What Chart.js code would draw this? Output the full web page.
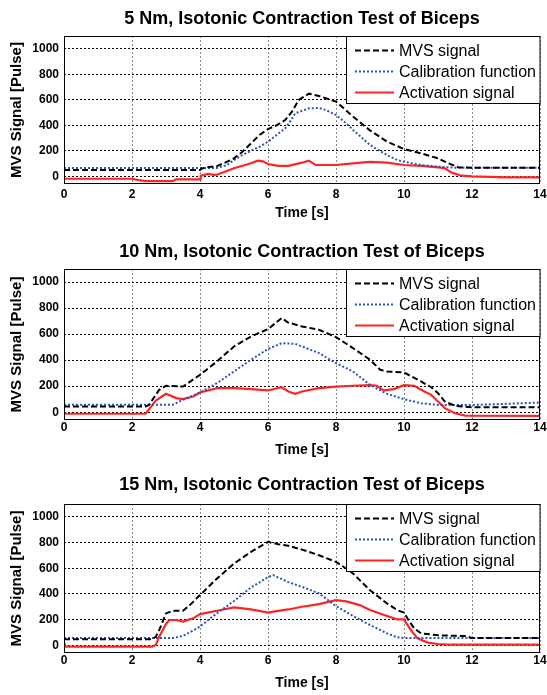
<!DOCTYPE html>
<html>
<head>
<meta charset="utf-8">
<script src="https://cdn.jsdelivr.net/npm/chart.js@4"></script>
<style>
html,body{margin:0;padding:0;background:#fff;}
body{width:547px;height:695px;position:relative;overflow:hidden;}
canvas{position:absolute;left:0;}
</style>
</head>
<body>
<canvas id="c1" width="547" height="232" style="top:0px"></canvas>
<canvas id="c2" width="547" height="231" style="top:232px"></canvas>
<canvas id="c3" width="547" height="232" style="top:463px"></canvas>
<script>
// ---------- data ----------
const xTicks = [0, 2, 4, 6, 8, 10, 12, 14];
const yTicks = [0, 200, 400, 600, 800, 1000];
const titles = [
  '5 Nm, Isotonic Contraction Test of Biceps',
  '10 Nm, Isotonic Contraction Test of Biceps',
  '15 Nm, Isotonic Contraction Test of Biceps'
];
const seriesNames = ['MVS signal', 'Calibration function', 'Activation signal'];
const xAxisLabel = 'Time [s]';
const yAxisLabel = 'MVS Signal [Pulse]';

// Panel 1 (5 Nm)
const p1MvsT = [0,2,4,4.05,4.2,4.5,4.8,5,5.25,5.5,5.75,6,6.25,6.5,6.7,6.9,7.2,7.5,8,8.5,9,9.5,10,10.5,11,11.3,11.6,12,14];
const p1MvsV = [50,50,50,62,70,80,115,141,193,259,324,370,400,440,505,598,648,630,586,469,360,272,214,180,141,103,71,68,68];
const p1CalT = [0,4.5,4.8,5,5.25,5.5,5.75,6,6.5,6.65,6.8,7.2,7.5,7.7,8,8.3,8.5,9,9.5,9.8,10,10.5,11,11.5,14];
const p1CalV = [66,66,89,128,167,201,232,272,375,429,494,533,536,520,481,416,364,246,167,128,115,89,76,68,68];
const p1ActT = [0,2,2.2,2.4,3.2,3.3,4,4.02,4.25,4.4,4.5,5,5.5,5.7,5.85,6,6.3,6.6,7,7.2,7.4,7.6,8,8.5,9,9.5,10,10.5,11,11.2,11.4,11.7,12,13,14];
const p1ActV = [-19,-19,-30,-37,-37,-23,-23,5,19,12,13,63,103,123,118,97,82,82,107,123,89,89,89,102,113,107,89,82,71,63,29,5,0,-8,-8];

// Panel 2 (10 Nm)
const p2MvsT = [0,2.4,2.5,2.8,3,3.5,4,4.5,5,5.5,6,6.4,6.58,7,7.5,8,8.5,9,9.3,9.5,10,10.5,10.8,11,11.2,11.5,12,14];
const p2MvsV = [44,44,56,172,203,197,287,390,505,582,638,723,690,659,633,577,492,403,326,313,305,236,192,146,82,49,38,38];
const p2CalT = [0,3.2,3.5,4,4.5,5,5.5,6,6.4,6.8,7,7.5,8,8.5,9,9.5,10,10.5,11,12,13,14];
const p2CalV = [58,58,95,151,223,313,403,485,530,525,505,454,377,313,210,141,100,69,56,56,64,74];
const p2ActT = [0,2.4,2.7,3,3.3,3.5,3.8,4,4.5,5,5.5,6,6.4,6.6,6.8,7,7.5,8,8.5,9,9.2,9.4,9.7,10,10.3,10.6,10.8,11,11.2,11.5,11.8,14];
const p2ActV = [-12,-12,90,141,108,100,120,151,185,185,177,167,192,159,141,159,185,197,203,208,203,167,177,208,203,159,133,82,31,-8,-26,-28];

// Panel 3 (15 Nm)
const p3MvsT = [0,2.6,2.7,2.8,3,3.2,3.5,3.7,4,4.5,5,5.5,6,6.3,6.6,7,7.5,8,8.3,8.5,9,9.5,9.8,10,10.1,10.3,10.5,11,11.8,12,14];
const p3MvsV = [47,47,67,119,248,269,269,313,391,520,636,727,805,787,775,745,701,649,598,559,429,326,274,254,210,132,93,78,72,57,57];
const p3CalT = [0,3.2,3.5,4,4.5,5,5.5,6,6.15,6.58,7,7.5,8,8.5,9,9.5,9.8,10,14];
const p3CalV = [57,57,72,145,250,345,450,530,546,494,455,404,305,228,158,93,62,57,57];
const p3ActT = [0,0.05,2.6,2.7,2.8,3,3.1,3.3,3.5,3.8,4,4.5,5,5.5,6,6.2,6.6,7,7.5,8,8.3,8.7,9,9.5,9.8,10,10.2,10.4,10.7,11,11.3,14];
const p3ActV = [25,-10,-10,3,67,166,197,197,184,210,243,269,295,279,254,264,279,300,321,352,342,313,274,228,202,202,119,54,21,10,5,5];

// ---------- styling / layout ----------
const FONT = '"Liberation Sans", Arial, Helvetica, sans-serif';
const seriesStyles = [
  {borderColor: '#000000', borderWidth: 2, borderDash: [6, 3]},
  {borderColor: '#2f52b8', borderWidth: 2, borderDash: [2, 2]},
  {borderColor: '#ff2424', borderWidth: 2.2, borderDash: []}
];
const panels = [
  {id: 'c1', h: 232, plotTop: 36, plotBottom: 184, titleY: 19, xLabelY: 213, tickPad: 3,
   t: [p1MvsT, p1CalT, p1ActT], v: [p1MvsV, p1CalV, p1ActV]},
  {id: 'c2', h: 231, plotTop: 37, plotBottom: 188, titleY: 20, xLabelY: 218, tickPad: 0,
   t: [p2MvsT, p2CalT, p2ActT], v: [p2MvsV, p2CalV, p2ActV]},
  {id: 'c3', h: 232, plotTop: 41, plotBottom: 190, titleY: 22, xLabelY: 220, tickPad: 0,
   t: [p3MvsT, p3CalT, p3ActT], v: [p3MvsV, p3CalV, p3ActV]}
];

const decorPlugin = {
  id: 'decor',
  afterDatasetsDraw(chart) {
    const {ctx, chartArea: a} = chart;
    ctx.save();
    ctx.strokeStyle = '#000';
    ctx.lineWidth = 1;
    ctx.setLineDash([]);
    const L = Math.round(a.left) + 0.5, T = Math.round(a.top) + 0.5;
    const R = Math.round(a.right) - 0.5, B = Math.round(a.bottom) - 0.5;
    ctx.strokeRect(L, T, R - L, B - T);
    const lx = 346, ly = T, lw = R - 346 + 0.5, lh = 67;
    ctx.fillStyle = '#fff';
    ctx.fillRect(lx, ly, lw, lh);
    ctx.strokeRect(lx + 0.5, ly, lw - 0.5, lh);
    ctx.font = '16px ' + FONT;
    ctx.textBaseline = 'middle';
    ctx.textAlign = 'left';
    chart.data.datasets.forEach((ds, i) => {
      const y = ly + 14 + i * 21;
      ctx.beginPath();
      ctx.strokeStyle = ds.borderColor;
      ctx.lineWidth = ds.borderWidth;
      ctx.setLineDash(ds.borderDash || []);
      ctx.moveTo(355, y);
      ctx.lineTo(394, y);
      ctx.stroke();
      ctx.fillStyle = '#000';
      ctx.fillText(ds.label, 399, y + 1);
    });
    ctx.restore();
  },
  afterDraw(chart, args, opts) {
    const {ctx, chartArea: a} = chart;
    ctx.save();
    ctx.fillStyle = '#000';
    ctx.textAlign = 'center';
    ctx.textBaseline = 'middle';
    const cx = (a.left + a.right) / 2;
    ctx.font = 'bold 18px ' + FONT;
    ctx.fillText(opts.title, cx, opts.titleY);
    ctx.font = 'bold 14px ' + FONT;
    ctx.fillText(xAxisLabel, cx, opts.xLabelY);
    ctx.translate(17, (a.top + a.bottom) / 2);
    ctx.rotate(-Math.PI / 2);
    ctx.font = 'bold 15px ' + FONT;
    ctx.fillText(yAxisLabel, 0, 0);
    ctx.restore();
  }
};

panels.forEach((p, pi) => {
  const datasets = seriesNames.map((name, si) => ({
    label: name,
    data: p.t[si].map((x, k) => ({x: x, y: p.v[si][k]})),
    borderColor: seriesStyles[si].borderColor,
    borderWidth: seriesStyles[si].borderWidth,
    borderDash: seriesStyles[si].borderDash,
    pointRadius: 0,
    tension: 0,
    fill: false
  }));
  new Chart(document.getElementById(p.id), {
    type: 'line',
    data: {datasets},
    options: {
      responsive: false,
      animation: false,
      devicePixelRatio: 1,
      layout: {padding: {top: p.plotTop, left: 0, right: 7, bottom: 0}},
      plugins: {
        legend: {display: false},
        title: {display: false},
        tooltip: {enabled: false},
        decor: {title: titles[pi], titleY: p.titleY, xLabelY: p.xLabelY}
      },
      scales: {
        x: {
          type: 'linear', min: 0, max: 14,
          afterBuildTicks: s => { s.ticks = xTicks.map(v => ({value: v})); },
          afterFit: s => { s.height = p.h - p.plotBottom; s.paddingLeft = 0; s.paddingRight = 0; },
          ticks: {autoSkip: false, maxRotation: 0, padding: p.tickPad, color: '#000',
                  font: {family: FONT, size: 12, weight: 'bold'}, callback: v => String(v)},
          grid: {color: '#8c8c8c', lineWidth: 1, drawTicks: false},
          border: {display: false, dash: [2, 2]}
        },
        y: {
          type: 'linear', min: -60, max: 1100,
          afterBuildTicks: s => { s.ticks = yTicks.map(v => ({value: v})); },
          afterFit: s => { s.width = 64; s.paddingTop = 0; s.paddingBottom = 0; },
          ticks: {padding: 5, color: '#000', font: {family: FONT, size: 12, weight: 'bold'},
                  callback: v => String(v)},
          grid: {color: '#000', lineWidth: 1, drawTicks: false},
          border: {display: false, dash: [2, 2]}
        }
      }
    },
    plugins: [decorPlugin]
  });
});
</script>
</body>
</html>
